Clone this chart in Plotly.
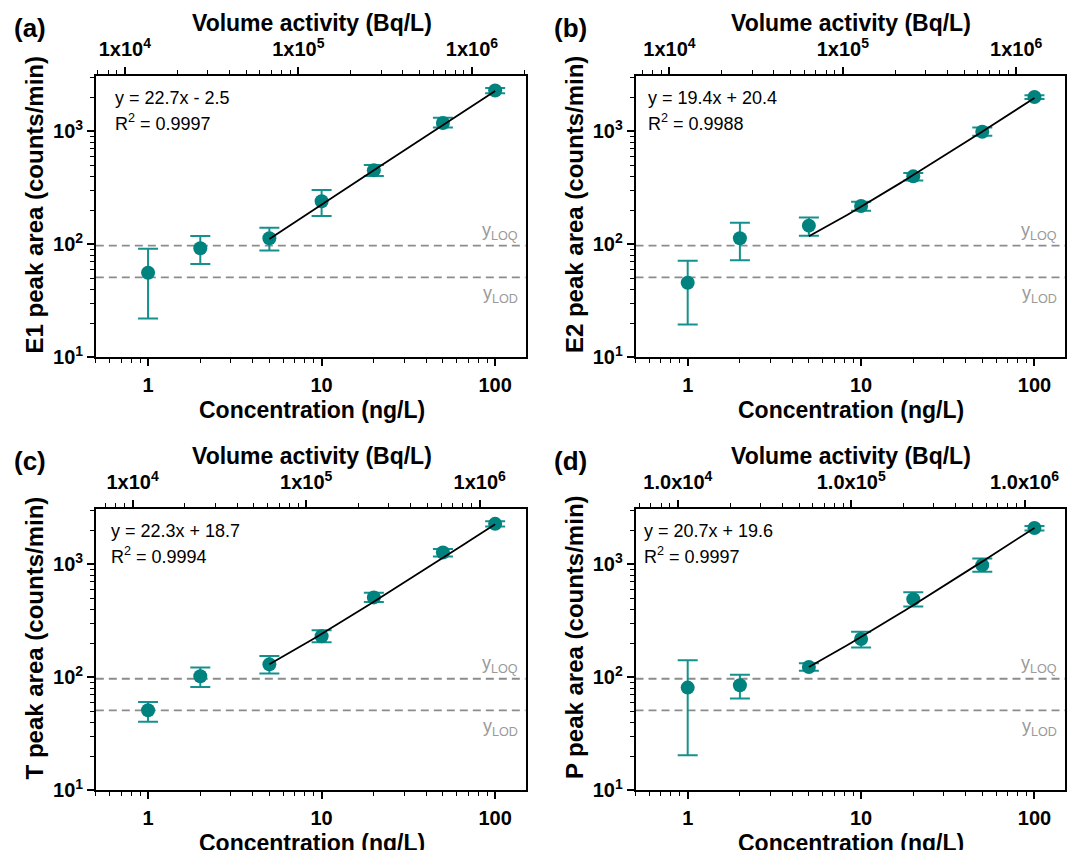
import numpy as np
import plotly.graph_objects as go

# ---------------- data ----------------
CONC = [1, 2, 5, 10, 20, 50, 100]  # ng/L

E1_MEAN = [56, 92, 113, 240, 450, 1180, 2285]
E1_HI = [91, 118, 140, 301, 501, 1310, 2410]
E1_LO = [22, 67, 88, 178, 401, 1076, 2163]

E2_MEAN = [45.6, 113, 146, 218, 398, 986, 2000]
E2_HI = [71.5, 155, 172, 238, 426, 1076, 2080]
E2_LO = [19.5, 72, 119, 198, 365, 910, 1920]

T_MEAN = [51, 102, 130, 230, 508, 1265, 2270]
T_HI = [60.4, 122, 154, 260, 558, 1362, 2394]
T_LO = [40.4, 82, 108, 204, 462, 1167, 2148]

P_MEAN = [81, 85, 123, 218, 490, 980, 2084]
P_HI = [141, 105, 133, 253, 564, 1122, 2168]
P_LO = [20.4, 65, 114, 183, 422, 857, 1986]

PANEL_LABELS = ["(a)", "(b)", "(c)", "(d)"]
Y_TITLES = ["E1 peak area (counts/min)", "E2 peak area (counts/min)",
            "T peak area (counts/min)", "P peak area (counts/min)"]
SLOPES = [22.7, 19.4, 22.3, 20.7]
INTERCEPTS = [-2.5, 20.4, 18.7, 19.6]
EQ_TEXT = ["y = 22.7x - 2.5", "y = 19.4x + 20.4", "y = 22.3x + 18.7", "y = 20.7x + 19.6"]
R2_TEXT = ["0.9997", "0.9988", "0.9994", "0.9997"]
BQ_PER_NG = [13610, 12740, 12270, 11400]  # volume activity per concentration unit
FIT_START = 5
FIT_END = 100

Y_LOQ = 97
Y_LOD = 51

X_TICKS = [1, 10, 100]
X_TICK_TEXT = ["1", "10", "100"]
Y_TICKS = [10, 100, 1000]
Y_TICK_TEXT = ["10<sup>1</sup>", "10<sup>2</sup>", "10<sup>3</sup>"]
TOP_TICKS = [1e4, 1e5, 1e6]
TOP_TEXT_SHORT = ["1x10<sup>4</sup>", "1x10<sup>5</sup>", "1x10<sup>6</sup>"]
TOP_TEXT_LONG = ["1.0x10<sup>4</sup>", "1.0x10<sup>5</sup>", "1.0x10<sup>6</sup>"]

SERIES = [(E1_MEAN, E1_HI, E1_LO), (E2_MEAN, E2_HI, E2_LO),
          (T_MEAN, T_HI, T_LO), (P_MEAN, P_HI, P_LO)]

# ---------------- style / layout ----------------
W, H = 1067, 850      # reference frame used to express positions
FIG_H = 863           # page height actually captured by the photographer
FONT = "Liberation Sans, Arial, sans-serif"
TEAL = "#00827F"
TEAL_ERR = "#14918D"
GRAY_LINE = "#8C8C8C"
GRAY_TEXT = "#9A9A9A"
X_MIN, X_MAX = 0.5, 150
Y_MIN_LOG, Y_MAX_LOG = 1.0, 3.49

# plot boxes in reference pixels (left, right, top, bottom)
BOXES = [(96, 526.7, 75.5, 356.5), (636.7, 1067, 75.5, 356.5),
         (96, 526.7, 507.5, 788.5), (636.7, 1067, 507.5, 788.5)]


def px(x):
    return x / W


def py(y):
    return 1 - y / H


minor_x = [m * 10 ** e for e in range(-1, 3) for m in range(2, 10)]
minor_y = [m * 10 ** e for e in range(1, 4) for m in range(2, 10)]
minor_top = [m * 10 ** e for e in range(3, 7) for m in range(2, 10)]

fig = go.Figure()
layout = dict(
    width=W, height=FIG_H, autosize=False,
    margin=dict(l=0, r=0, t=0, b=0, pad=0),
    paper_bgcolor="white", plot_bgcolor="white", showlegend=False,
    font=dict(family=FONT, color="black"),
)
annotations = []

tickfont = dict(family=FONT, size=20, color="black", weight="bold")

for i in range(4):
    xb = "x" if i == 0 else f"x{i + 1}"
    yb = "y" if i == 0 else f"y{i + 1}"
    xt = f"x{i + 5}"
    xb_key = "xaxis" if i == 0 else f"xaxis{i + 1}"
    yb_key = "yaxis" if i == 0 else f"yaxis{i + 1}"
    xt_key = f"xaxis{i + 5}"
    l, r, t, b = BOXES[i]
    dom_x = [px(l), min(1.0, px(r))]
    dom_y = [py(b), py(t)]
    mean, hi, lo = SERIES[i]
    factor = BQ_PER_NG[i]

    layout[xb_key] = dict(
        type="log", domain=dom_x, anchor=yb,
        range=[np.log10(X_MIN), np.log10(X_MAX)],
        tickmode="array", tickvals=X_TICKS, ticktext=X_TICK_TEXT,
        ticks="outside", ticklen=7, tickwidth=1.5, tickcolor="black",
        ticklabelstandoff=2,
        showline=True, linewidth=1.5, linecolor="black", mirror=True,
        showgrid=False, zeroline=False, tickfont=tickfont,
        minor=dict(tickmode="array", tickvals=minor_x, ticks="outside",
                   ticklen=4, tickwidth=1.2, tickcolor="black", showgrid=False),
    )
    layout[xt_key] = dict(
        type="log", overlaying=xb, side="top", anchor=yb, domain=dom_x,
        range=[np.log10(X_MIN * factor), np.log10(X_MAX * factor)],
        tickmode="array", tickvals=TOP_TICKS,
        ticktext=TOP_TEXT_LONG if i == 3 else TOP_TEXT_SHORT,
        ticks="outside", ticklen=7, tickwidth=1.5, tickcolor="black",
        ticklabelstandoff=3,
        showline=True, linewidth=1.5, linecolor="black",
        showgrid=False, zeroline=False, tickfont=tickfont,
        minor=dict(tickmode="array", tickvals=minor_top, ticks="outside",
                   ticklen=4, tickwidth=1.2, tickcolor="black", showgrid=False),
    )
    layout[yb_key] = dict(
        type="log", domain=dom_y, anchor=xb,
        range=[Y_MIN_LOG, Y_MAX_LOG],
        tickmode="array", tickvals=Y_TICKS, ticktext=Y_TICK_TEXT,
        ticks="outside", ticklen=7, tickwidth=1.5, tickcolor="black",
        showline=True, linewidth=1.5, linecolor="black", mirror=True,
        showgrid=False, zeroline=False, tickfont=tickfont,
        minor=dict(tickmode="array", tickvals=minor_y, ticks="outside",
                   ticklen=4, tickwidth=1.2, tickcolor="black", showgrid=False),
    )

    # LOQ / LOD dashed lines
    for yv in (Y_LOQ, Y_LOD):
        fig.add_trace(go.Scatter(
            x=[X_MIN, X_MAX], y=[yv, yv], mode="lines", xaxis=xb, yaxis=yb,
            line=dict(color=GRAY_LINE, width=1.8, dash="8px,5px"),
            hoverinfo="skip", cliponaxis=True))

    # data points with error bars
    err_plus = [h - m for h, m in zip(hi, mean)]
    err_minus = [m - lw for m, lw in zip(mean, lo)]
    fig.add_trace(go.Scatter(
        x=CONC, y=mean, mode="markers", xaxis=xb, yaxis=yb,
        marker=dict(color=TEAL, size=14, line=dict(width=0)),
        error_y=dict(type="data", symmetric=False, array=err_plus,
                     arrayminus=err_minus, color=TEAL_ERR, thickness=2, width=10),
        cliponaxis=False))

    # linear fit line (from the stated regression equation)
    xf = np.geomspace(FIT_START, FIT_END, 60)
    yf = SLOPES[i] * xf + INTERCEPTS[i]
    fig.add_trace(go.Scatter(
        x=xf, y=yf, mode="lines", xaxis=xb, yaxis=yb,
        line=dict(color="black", width=1.8), hoverinfo="skip"))

    # register the top axis
    fig.add_trace(go.Scatter(x=[], y=[], xaxis=xt, yaxis=yb, mode="markers",
                             hoverinfo="skip", showlegend=False))

    cx = (l + min(r, 1067)) / 2
    # axis titles
    annotations.append(dict(
        text="Concentration (ng/L)", xref="paper", yref="paper",
        x=px(cx + 1), y=py(b + 53), xanchor="center", yanchor="middle",
        showarrow=False, font=dict(family=FONT, size=23, color="black", weight="bold")))
    annotations.append(dict(
        text="Volume activity (Bq/L)", xref="paper", yref="paper",
        x=px(cx + 1), y=py(t - 52.5), xanchor="center", yanchor="middle",
        showarrow=False, font=dict(family=FONT, size=23, color="black", weight="bold")))
    annotations.append(dict(
        text=Y_TITLES[i], xref="paper", yref="paper", textangle=-90,
        x=px(l - 61), y=py((t + b) / 2 - 12), xanchor="center", yanchor="middle",
        showarrow=False, font=dict(family=FONT, size=24, color="black", weight="bold")))
    # panel label
    annotations.append(dict(
        text=PANEL_LABELS[i], xref="paper", yref="paper",
        x=px(l - 84), y=py(t - 48), xanchor="left", yanchor="middle",
        showarrow=False, font=dict(family=FONT, size=26, color="black", weight="bold")))
    # equation and R^2
    eq_shift = [17, 10, 13, 6][i]
    annotations.append(dict(
        text=EQ_TEXT[i], xref=f"{xb} domain", yref=f"{yb} domain",
        x=0, y=1, xanchor="left", yanchor="middle", xshift=eq_shift, yshift=-22,
        showarrow=False, font=dict(family=FONT, size=18, color="black")))
    annotations.append(dict(
        text="R<sup>2</sup> = " + R2_TEXT[i], xref=f"{xb} domain", yref=f"{yb} domain",
        x=0, y=1, xanchor="left", yanchor="middle", xshift=eq_shift, yshift=-47,
        showarrow=False, font=dict(family=FONT, size=18, color="black")))
    # LOQ / LOD labels
    annotations.append(dict(
        text="y<sub>LOQ</sub>", xref=f"{xb} domain", yref=yb,
        x=1, y=np.log10(Y_LOQ), xanchor="right", yanchor="bottom",
        xshift=-6, yshift=1, showarrow=False,
        font=dict(family=FONT, size=18, color=GRAY_TEXT)))
    annotations.append(dict(
        text="y<sub>LOD</sub>", xref=f"{xb} domain", yref=yb,
        x=1, y=np.log10(Y_LOD), xanchor="right", yanchor="top",
        xshift=-6, yshift=-4, showarrow=False,
        font=dict(family=FONT, size=18, color=GRAY_TEXT)))

layout["annotations"] = annotations
fig.update_layout(**layout)

POST = (
    "var s=document.documentElement.style;s.margin='0';s.padding='0';"
    "var b=document.body.style;b.margin='0';b.padding='0';"
    "window.scrollTo(0,0);"
)
fig.write_html("out.html", config={"displayModeBar": False}, post_script=POST)
